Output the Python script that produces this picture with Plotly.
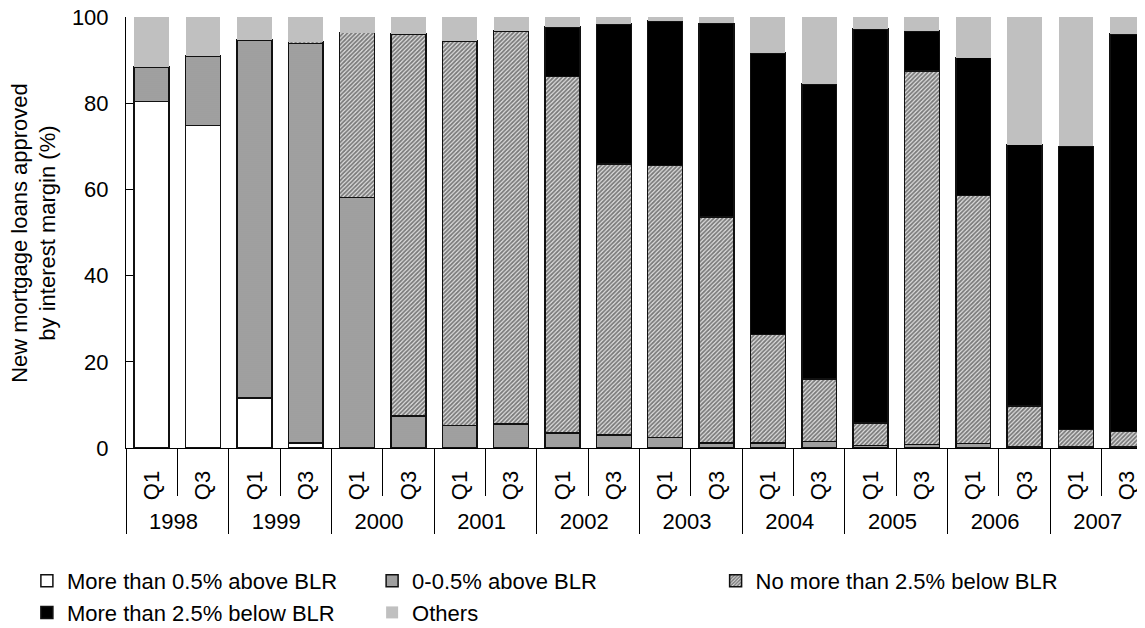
import plotly.graph_objects as go

years = ["1998", "1998", "1999", "1999", "2000", "2000", "2001", "2001", "2002", "2002",
         "2003", "2003", "2004", "2004", "2005", "2005", "2006", "2006", "2007", "2007"]
quarters = ["Q1", "Q3"] * 10

above_05 = [80.4, 74.8, 11.6, 1.2, 0, 0, 0, 0, 0, 0, 0, 0, 0, 0, 0, 0, 0, 0, 0, 0]
above_0_05 = [8.0, 16.2, 83.1, 92.6, 58.1, 7.4, 5.2, 5.6, 3.5, 3.0,
              2.4, 1.2, 1.2, 1.5, 0.6, 0.8, 1.0, 0.3, 0.3, 0.2]
below_le25 = [0, 0, 0, 0.5, 38.3, 88.6, 89.2, 91.2, 82.7, 62.9,
              63.2, 52.4, 25.1, 14.5, 5.2, 86.7, 57.6, 9.5, 4.0, 3.6]
below_gt25 = [0, 0, 0, 0, 0, 0, 0, 0, 11.5, 32.5,
              33.5, 44.9, 65.3, 68.4, 91.4, 9.2, 32.0, 60.6, 65.7, 92.2]
others = [11.6, 9.0, 5.3, 5.7, 3.6, 4.0, 5.6, 3.2, 2.3, 1.6,
          0.9, 1.5, 8.4, 15.6, 2.8, 3.3, 9.4, 29.6, 30.0, 4.0]

FONT = "Liberation Sans, Arial, sans-serif"
x = [years, quarters]
edge = dict(color="#111111", width=1.5)

fig = go.Figure()
fig.add_trace(go.Bar(x=x, y=above_05, name="More than 0.5% above BLR",
                     marker=dict(color="white", line=edge), legend="legend"))
fig.add_trace(go.Bar(x=x, y=above_0_05, name="0-0.5% above BLR",
                     marker=dict(color="#a0a0a0", line=edge,
                                 pattern=dict(shape="-", size=2, solidity=0.5,
                                              fgcolor="#bdbdbd", bgcolor="#959595")),
                     legend="legend2"))
fig.add_trace(go.Bar(x=x, y=below_le25, name="No more than 2.5% below BLR",
                     marker=dict(color="#aaaaaa", line=edge,
                                 pattern=dict(shape="/", size=3, solidity=0.6,
                                              fgcolor="#111111", bgcolor="#e2e2e2")),
                     legend="legend3"))
fig.add_trace(go.Bar(x=x, y=below_gt25, name="More than 2.5% below BLR",
                     marker=dict(color="black", line=edge), legend="legend"))
fig.add_trace(go.Bar(x=x, y=others, name="Others",
                     marker=dict(color="#c0c0c0", line=dict(width=0)), legend="legend2"))

leg = dict(orientation="v", xref="container", yref="container", xanchor="left", yanchor="top",
           y=0.121, font=dict(family=FONT, size=22, color="black"), tracegroupgap=0,
           traceorder="normal", bgcolor="rgba(0,0,0,0)")

fig.update_layout(
    barmode="stack",
    bargap=0.32,
    width=1145, height=628,
    margin=dict(l=118, r=0, t=9, b=188, autoexpand=False),
    paper_bgcolor="white", plot_bgcolor="white",
    font=dict(family=FONT, size=22, color="black"),
    legend=dict(leg, x=0.0165),
    legend2=dict(leg, x=0.318),
    legend3=dict(leg, x=0.618),
    xaxis=dict(type="multicategory", showline=True, linecolor="black", linewidth=1,
               ticks="outside", ticklen=47, tickcolor="black", tickangle=-90,
               dividercolor="black", dividerwidth=1, showgrid=False,
               ticklabelstandoff=13,
               tickfont=dict(family=FONT, size=22)),
    yaxis=dict(range=[0, 100], dtick=20, showline=True, linecolor="black", linewidth=1,
               ticks="inside", ticklen=7, tickcolor="black", showgrid=False, zeroline=False,
               ticklabelstandoff=12, ticklabeloverflow="allow"),
    annotations=[dict(text="New mortgage loans approved<br>by interest margin (%)",
                      xref="paper", yref="paper", x=-0.0902, y=0.5, textangle=-90,
                      xanchor="center", yanchor="middle",
                      showarrow=False, font=dict(family=FONT, size=22))],
)

fig.write_html("out.html")
